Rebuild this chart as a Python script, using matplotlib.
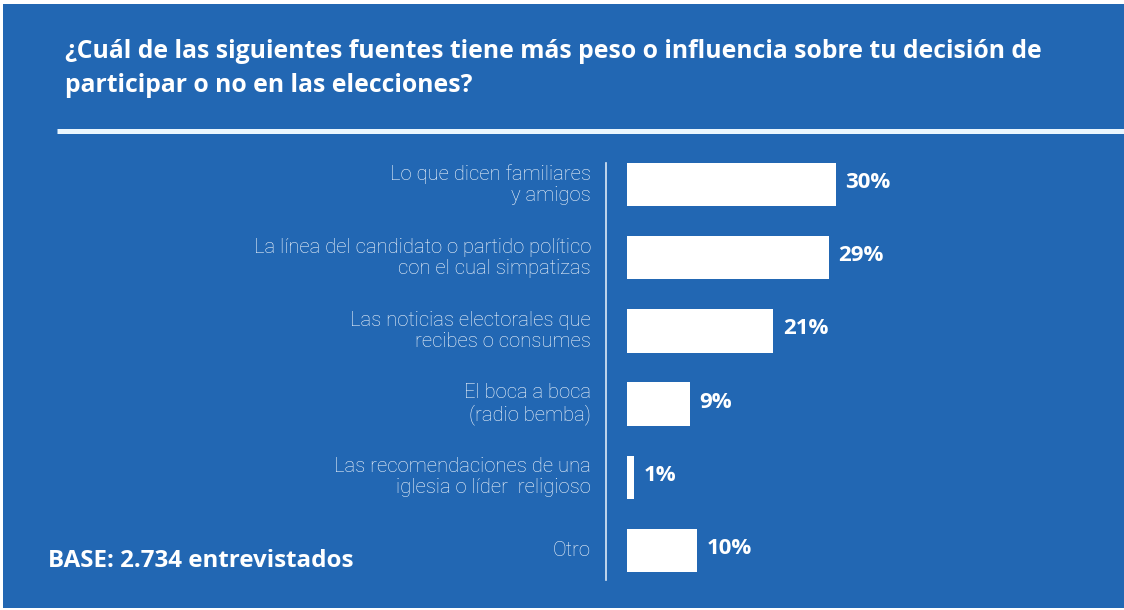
import matplotlib
matplotlib.use("Agg")
import matplotlib.pyplot as plt
from matplotlib.patches import Rectangle
from matplotlib.lines import Line2D

categories = [
    "Lo que dicen familiares\ny amigos",
    "La línea del candidato o partido político\ncon el cual simpatizas",
    "Las noticias electorales que\nrecibes o consumes",
    "El boca a boca\n(radio bemba)",
    "Las recomendaciones de una\niglesia o líder  religioso",
    "Otro",
]
values = [30, 29, 21, 9, 1, 10]
value_labels = ["30%", "29%", "21%", "9%", "1%", "10%"]
title = ("¿Cuál de las siguientes fuentes tiene más peso o influencia sobre tu decisión de\n"
         "participar o no en las elecciones?")
base_note = "BASE: 2.734 entrevistados"

BG = "#2267B3"
W, H = 1124, 610
fig = plt.figure(figsize=(W / 100, H / 100), dpi=100, facecolor="white")

# blue panel
fig.patches.append(Rectangle((3 / W, 2 / H), 1 - 3 / W, 1 - 6 / H, transform=fig.transFigure,
                             facecolor=BG, edgecolor="none", zorder=-5))

# title
fig.text(65 / W, 1 - 39 / H, title, ha="left", va="top", color="white",
         fontsize=17.85, fontweight="bold", family="Open Sans", linespacing=1.5)

# separator line
fig.add_artist(Line2D([57 / W, 1.0], [1 - 130.5 / H, 1 - 130.5 / H], transform=fig.transFigure,
                      color="#EAF6FD", linewidth=3.6, solid_capstyle="butt"))

# base note
fig.text(48 / W, 1 - 561 / H, base_note, ha="left", va="center", color="white",
         fontsize=17.4, fontweight="bold", family="Open Sans")

# axes for bars
px_per = 6.95
ax_left, ax_right = 627, 1124
ax_top, ax_bot = 148, 587
ax = fig.add_axes([ax_left / W, (H - ax_bot) / H, (ax_right - ax_left) / W, (ax_bot - ax_top) / H])
ax.set_facecolor("none")
ax.set_xlim(0, (ax_right - ax_left) / px_per)
ax.set_ylim(len(categories) - 0.5, -0.5)
for s in ax.spines.values():
    s.set_visible(False)
ax.set_xticks([])
ax.set_yticks([])

ypos = list(range(len(categories)))
ax.barh(ypos, values, height=0.59, color="white", edgecolor="none")

for y, v, lab in zip(ypos, values, value_labels):
    ax.annotate(lab, (v, y), xytext=(7, 1.5), textcoords="offset points", ha="left", va="center",
                color="white", fontsize=16, fontweight="bold", family="Open Sans")

label_x = (591 - ax_left) / px_per
for y, c in zip(ypos, categories):
    ax.text(label_x, y, c, ha="right", va="center", color="#F4F8FD", fontsize=14.6,
            fontweight="light", family="Roboto", linespacing=1.14, clip_on=False)

vx = (606 - ax_left) / px_per
ax.plot([vx, vx], [(163 - ax_top) / 73.2 - 0.5, (580 - ax_top) / 73.2 - 0.5], color="#DCE8F6",
        linewidth=1.2, clip_on=False)

fig.savefig("out.png", dpi=100, facecolor="white")
